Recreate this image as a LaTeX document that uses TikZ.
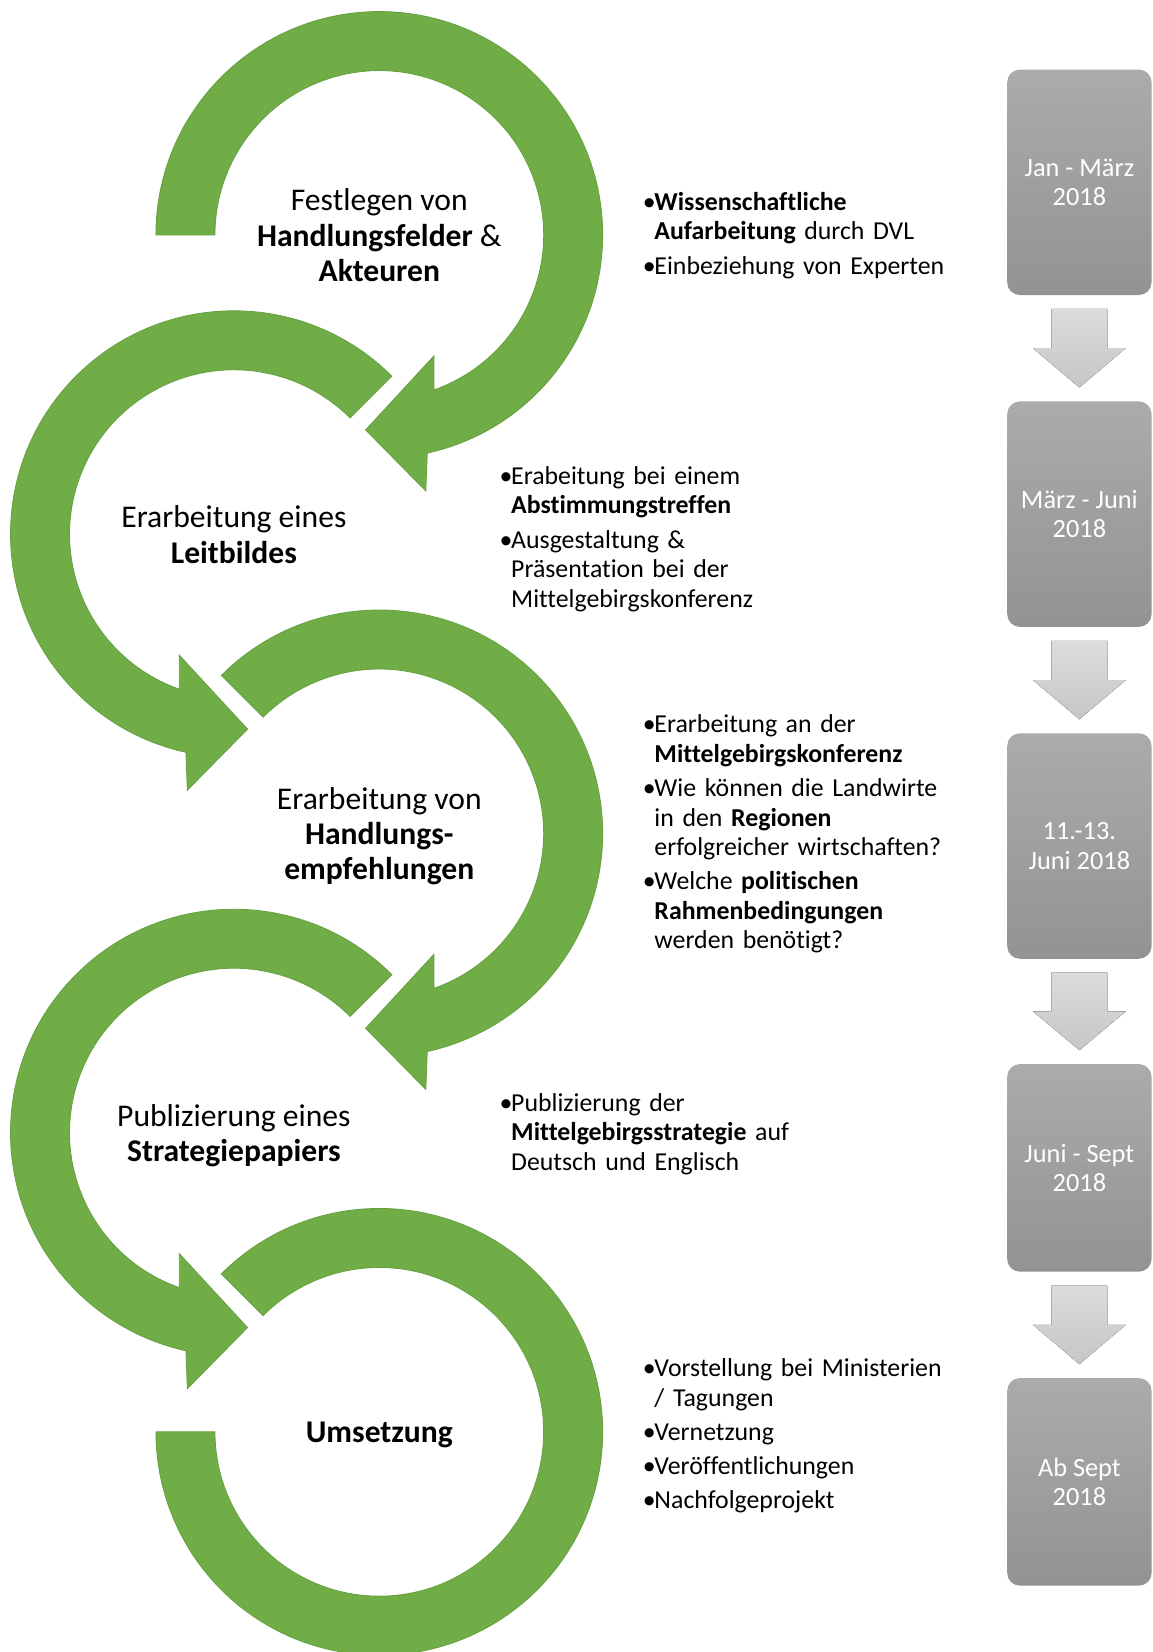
\documentclass[tikz,border=0pt]{standalone}
\usepackage{fontspec}
\setmainfont{Carlito}[Ligatures={NoCommon}]
\usetikzlibrary{calc}
\definecolor{ringgreen}{HTML}{70AD47}
\definecolor{ringedge}{HTML}{66A140}
\definecolor{boxtop}{HTML}{ABABAB}
\definecolor{boxbot}{HTML}{939393}
\definecolor{arrtop}{HTML}{DCDCDC}
\definecolor{arrbot}{HTML}{C6C6C6}
\newcommand\bitem[1]{\par\noindent\hangindent=11pt\hangafter=1\makebox[11pt][l]{\strut•}#1\par}
\newcommand\cwarrow[3]{%
\begin{scope}[shift={(#1,#2)}]
\filldraw[ring] (-#3:212) arc[start angle=-#3, end angle=77.6, radius=212] -- (79.7:247) -- (94:185.5) -- (65.7:126) -- (70.6:156) arc[start angle=70.6, end angle=-#3, radius=156] -- cycle;
\end{scope}}
\newcommand\ccwarrow[2]{%
\begin{scope}[shift={(#1,#2)}]
\filldraw[ring] (-45:212) arc[start angle=-45, end angle=-257.6, radius=212] -- (-259.7:247) -- (-274:185.5) -- (-245.7:126) -- (-250.6:156) arc[start angle=-250.6, end angle=-45, radius=156] -- cycle;
\end{scope}}
\newcommand\garrow[2]{%
\path ($(#1.south)+(0,13)$) coordinate (ga) ($(#2.north)-(0,13)$) coordinate (gb) ($(ga)!0.5!(gb)$) coordinate (gm);
\fill[garr] ($(ga)+(-26.5,0)$) -- ($(ga)+(26.5,0)$) -- ($(gm)+(26.5,0)$) -- ($(gm)+(44,0)$) -- (gb) -- ($(gm)+(-44,0)$) -- ($(gm)+(-26.5,0)$) -- cycle;}
\begin{document}
\begin{tikzpicture}[x=1pt,y=-1pt,
  ring/.style={fill=ringgreen, draw=ringedge, line width=0.8pt},
  ringtext/.style={align=center, inner sep=0pt, font=\fontsize{30}{33.5}\selectfont},
  bul/.style={anchor=north west, inner sep=0pt, text width=340pt,
    font=\fontsize{24.5}{28}\selectfont\setlength{\parskip}{4.5pt}\setlength{\parindent}{0pt}},
  tbox/.style={rounded corners=12pt, minimum width=137pt, inner sep=0pt,
    top color=boxtop, bottom color=boxbot, text=white, align=center,
    font=\fontsize{25}{28}\selectfont},
  garr/.style={top color=arrtop, bottom color=arrbot}]
\useasboundingbox (0,0) rectangle (1094,1568);
\clip (0,0) rectangle (1094,1568);
\fill[white] (0,0) rectangle (1094,1568);
% green circular arrows
\cwarrow{360}{223}{180}
\ccwarrow{222}{507}
\cwarrow{360}{791}{135}
\ccwarrow{222}{1075}
\begin{scope}[shift={(360,1359)}]
\filldraw[ring] (-135:212) arc[start angle=-135, end angle=180, radius=212] -- (180:156) arc[start angle=180, end angle=-135, radius=156] -- cycle;
\end{scope}
% ring texts
\node[ringtext] (r1) at (360,227) {\strut Festlegen von\\\strut\textbf{Handlungsfelder} \&\\\strut\textbf{Akteuren}};
\node[ringtext] (r2) at (222,511) {\strut Erarbeitung eines\\\strut\textbf{Leitbildes}};
\node[ringtext] (r3) at (360,795) {\strut Erarbeitung von\\\strut\textbf{Handlungs-}\\\strut\textbf{empfehlungen}};
\node[ringtext] (r4) at (222,1079) {\strut Publizierung eines\\\strut\textbf{Strategiepapiers}};
\node[ringtext] (r5) at (360,1362.5) {\strut\textbf{Umsetzung}};
% bullet texts
\node[bul] (g1) at (610,167) {\bitem{\textbf{Wissenschaftliche}\newline\textbf{Aufarbeitung} durch DVL}\bitem{Einbeziehung von Experten}};
\node[bul] (g2) at (474,427) {\bitem{Erabeitung bei einem\newline\textbf{Abstimmungstreffen}}\bitem{Ausgestaltung \&\newline Präsentation bei der\newline Mittelgebirgskonferenz}};
\node[bul] (g3) at (610,663) {\bitem{Erarbeitung an der\newline\textbf{Mittelgebirgskonferenz}}\bitem{Wie können die Landwirte\newline in den \textbf{Regionen}\newline erfolgreicher wirtschaften?}\bitem{Welche \textbf{politischen}\newline\textbf{Rahmenbedingungen}\newline werden benötigt?}};
\node[bul] (g4) at (474,1022) {\bitem{Publizierung der\newline\textbf{Mittelgebirgsstrategie} auf\newline Deutsch und Englisch}};
\node[bul] (g5) at (610,1274) {\bitem{Vorstellung bei Ministerien\newline / Tagungen}\bitem{Vernetzung}\bitem{Veröffentlichungen}\bitem{Nachfolgeprojekt}};
% time boxes
\node[tbox, minimum height=214pt] (t1) at (1024.5,173) {Jan - März\\2018};
\node[tbox, minimum height=214pt] (t2) at (1024.5,488) {März - Juni\\2018};
\node[tbox, minimum height=214pt] (t3) at (1024.5,803) {11.-13.\\Juni 2018};
\node[tbox, minimum height=197pt] (t4) at (1024.5,1108.5) {Juni - Sept\\2018};
\node[tbox, minimum height=197pt] (t5) at (1024.5,1406.5) {Ab Sept\\2018};
\garrow{t1}{t2}
\garrow{t2}{t3}
\garrow{t3}{t4}
\garrow{t4}{t5}
\end{tikzpicture}
\end{document}
